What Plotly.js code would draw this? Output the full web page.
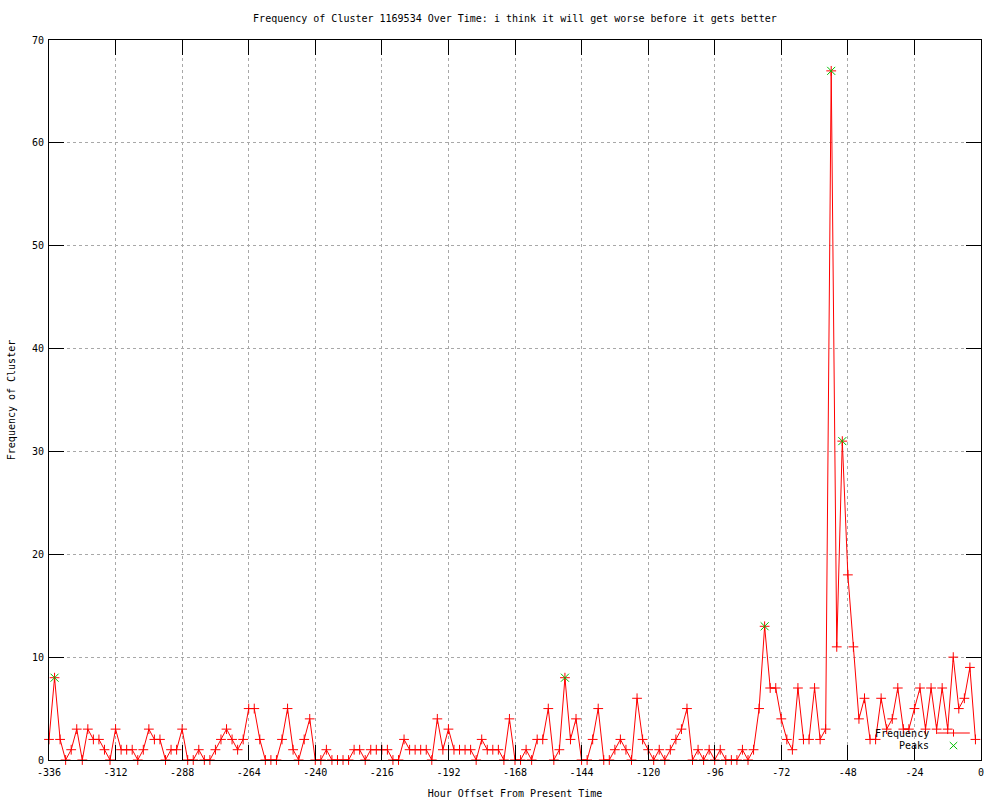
<!DOCTYPE html>
<html>
<head>
<meta charset="utf-8">
<script src="https://cdn.plot.ly/plotly-3.0.1.min.js"></script>
<style>
html,body{margin:0;padding:0;background:#fff;}
#chart{width:1000px;height:800px;}
</style>
</head>
<body>
<div id="chart"></div>
<script>
// Hour offsets (every 2 hours)
const hours = [
-336,-334,-332,-330,-328,-326,-324,-322,-320,-318,
-316,-314,-312,-310,-308,-306,-304,-302,-300,-298,
-296,-294,-292,-290,-288,-286,-284,-282,-280,-278,
-276,-274,-272,-270,-268,-266,-264,-262,-260,-258,
-256,-254,-252,-250,-248,-246,-244,-242,-240,-238,
-236,-234,-232,-230,-228,-226,-224,-222,-220,-218,
-216,-214,-212,-210,-208,-206,-204,-202,-200,-198,
-196,-194,-192,-190,-188,-186,-184,-182,-180,-178,
-176,-174,-172,-170,-168,-166,-164,-162,-160,-158,
-156,-154,-152,-150,-148,-146,-144,-142,-140,-138,
-136,-134,-132,-130,-128,-126,-124,-122,-120,-118,
-116,-114,-112,-110,-108,-106,-104,-102,-100,-98,
-96,-94,-92,-90,-88,-86,-84,-82,-80,-78,
-76,-74,-72,-70,-68,-66,-64,-62,-60,-58,
-56,-54,-52,-50,-48,-46,-44,-42,-40,-38,
-36,-34,-32,-30,-28,-26,-24,-22,-20,-18,
-16,-14,-12,-10,-8,-6,-4,-2
];

// Frequency of cluster per 2-hour bin
const frequency = [
2,8,2,0,1,3,0,3,2,2,
1,0,3,1,1,1,0,1,3,2,
2,0,1,1,3,0,0,1,0,0,
1,2,3,2,1,2,5,5,2,0,
0,0,2,5,1,0,2,4,0,0,
1,0,0,0,0,1,1,0,1,1,
1,1,0,0,2,1,1,1,1,0,
4,1,3,1,1,1,1,0,2,1,
1,1,0,4,0,0,1,0,2,2,
5,0,1,8,2,4,0,0,2,5,
0,0,1,2,1,0,6,2,1,0,
1,0,1,2,3,5,0,1,0,1,
0,1,0,0,0,1,0,1,5,13,
7,7,4,2,1,7,2,2,7,2,
3,67,11,31,18,11,4,6,2,2,
6,3,4,7,3,3,5,7,3,7,
3,7,3,10,5,6,9,2
];

// Peaks
const peakHours = [-334, -150, -78, -54, -50];
const peakValues = [8, 8, 13, 67, 31];

// Axis ticks
const xTicks = [-336,-312,-288,-264,-240,-216,-192,-168,-144,-120,-96,-72,-48,-24,0];
const xTickLabels = ["-336","-312","-288","-264","-240","-216","-192","-168","-144","-120","-96","-72","-48","-24","0"];
const yTicks = [0,10,20,30,40,50,60,70];

const FONT = "DejaVu Sans Mono, monospace";
const RED = "#ff0000";
const GREEN = "#00c000";

const traces = [
  {
    x: hours, y: frequency, name: "Frequency",
    type: "scatter", mode: "lines+markers",
    line: {color: RED, width: 1},
    marker: {symbol: "cross-thin-open", size: 7, line: {color: RED, width: 1}, color: RED},
    cliponaxis: false, showlegend: false
  },
  {
    x: peakHours, y: peakValues, name: "Peaks",
    type: "scatter", mode: "markers",
    marker: {symbol: "x-thin-open", size: 8, line: {color: GREEN, width: 1}, color: GREEN},
    cliponaxis: false, showlegend: false
  }
];

const axisCommon = {
  showline: true, linecolor: "#000", linewidth: 1, mirror: "ticks",
  ticks: "inside", ticklen: 15, tickcolor: "#000", tickwidth: 1,
  showgrid: true, gridcolor: "#a8a8a8", gridwidth: 1, griddash: "dot",
  zeroline: false,
  tickfont: {family: FONT, size: 10, color: "#000"}
};

// legend (gnuplot style: text then sample) in paper coordinates
const lx1 = 0.953, lx2 = 0.988, ly1 = 0.0375, ly2 = 0.020;
const shapes = [
  {type: "line", xref: "paper", yref: "paper", x0: lx1, x1: lx2, y0: ly1, y1: ly1, line: {color: RED, width: 1}},
  {type: "line", xref: "paper", yref: "paper", x0: (lx1+lx2)/2, x1: (lx1+lx2)/2, y0: ly1-0.005, y1: ly1+0.005, line: {color: RED, width: 1}},
  {type: "line", xref: "paper", yref: "paper", x0: (lx1+lx2)/2-0.004, x1: (lx1+lx2)/2+0.004, y0: ly2-0.005, y1: ly2+0.005, line: {color: GREEN, width: 1}},
  {type: "line", xref: "paper", yref: "paper", x0: (lx1+lx2)/2-0.004, x1: (lx1+lx2)/2+0.004, y0: ly2+0.005, y1: ly2-0.005, line: {color: GREEN, width: 1}}
];
const annotations = [
  {xref: "paper", yref: "paper", x: 0.946, y: ly1, xanchor: "right", yanchor: "middle", text: "Frequency", showarrow: false, font: {family: FONT, size: 10, color: "#000"}},
  {xref: "paper", yref: "paper", x: 0.946, y: ly2, xanchor: "right", yanchor: "middle", text: "Peaks", showarrow: false, font: {family: FONT, size: 10, color: "#000"}}
];

const layout = {
  width: 1000, height: 800,
  paper_bgcolor: "#fff", plot_bgcolor: "#fff",
  margin: {l: 49, r: 19, t: 40, b: 40, pad: 0},
  font: {family: FONT, size: 10, color: "#000"},
  title: {text: "Frequency of Cluster 1169534 Over Time: i think it will get worse before it gets better",
          font: {family: FONT, size: 10, color: "#000"}, x: 0.5, xref: "paper", y: 0.977, yanchor: "middle"},
  xaxis: Object.assign({}, axisCommon, {
    range: [-336, 0], tickmode: "array", tickvals: xTicks, ticktext: xTickLabels,
    ticklabelstandoff: 3,
    title: {text: "Hour Offset From Present Time", font: {family: FONT, size: 10, color: "#000"}, standoff: 12}
  }),
  yaxis: Object.assign({}, axisCommon, {
    range: [0, 70], tickmode: "array", tickvals: yTicks,
    ticklabelstandoff: 2,
    title: {text: "Frequency of Cluster", font: {family: FONT, size: 10, color: "#000"}, standoff: 14}
  }),
  shapes: shapes,
  annotations: annotations,
  showlegend: false
};

Plotly.newPlot("chart", traces, layout, {displayModeBar: false, staticPlot: true});
</script>
</body>
</html>
